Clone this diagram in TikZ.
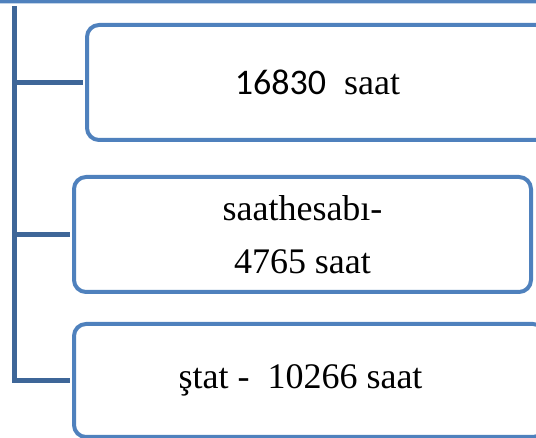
\documentclass[tikz,border=0pt]{standalone}
\usepackage{fontspec}
\setmainfont{Liberation Serif}
\newfontfamily\numfont{Carlito}
\usetikzlibrary{positioning}
\definecolor{boxblue}{RGB}{79,129,189}
\definecolor{linkblue}{RGB}{62,102,152}
\tikzset{
  leaf/.style={draw=boxblue, line width=2pt, rounded corners=6pt, fill=white,
    align=center, inner sep=0pt, font=\fontsize{18}{26.5}\selectfont},
  link/.style={draw=linkblue, line width=2.5pt, shorten >=1pt}
}

\begin{document}
\begin{tikzpicture}[x=0.5pt,y=-0.5pt]
        \useasboundingbox (0,0) rectangle (536,438);
        \clip (0,0) rectangle (536,438);
        % boxes
        \node[leaf, minimum width=300pt, minimum height=61.5pt] (root) at (268,-60) {};
        \node[leaf, minimum width=230.5pt, minimum height=57.5pt] (total) at (317.5,82.5) {{\numfont 16830}~~saat};
        \node[leaf, minimum width=228.5pt, minimum height=57.5pt] (clock) at (302.5,234.5) {saathesabı-\\4765 saat};
        \node[leaf, minimum width=235.5pt, minimum height=56.5pt] (state) at (309.5,380.5) {ştat -~~10266 saat\hspace*{9pt}};
        % tree lines
        \coordinate (top) at (14.5,6);
        \draw[link] (top) |- (state.west);
        \draw[link] (top |- total.west) -- (total.west);
        \draw[link] (top |- clock.west) -- (clock.west);
      \end{tikzpicture}
\end{document}
